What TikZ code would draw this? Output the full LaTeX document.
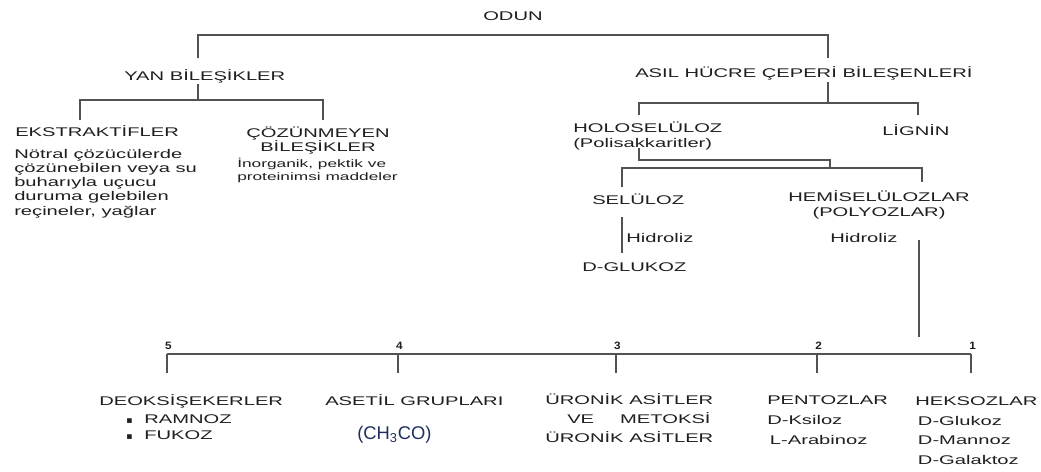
\documentclass[tikz,border=0pt]{standalone}
\usepackage{fontspec}
\setmainfont{Liberation Sans}[FakeStretch=1.6]
\newfontfamily\numfont{Liberation Sans}[FakeStretch=1.1]
\newfontfamily\chemfont{Liberation Sans}
\newfontfamily\symfont{DejaVu Sans}
\definecolor{chemblue}{RGB}{31,47,95}
\newcommand{\rows}[2][l]{\begin{tabular}[t]{@{}#1@{}}#2\end{tabular}}
\tikzset{
  tree/.style={line width=1.4pt, draw=black!68},
  lbl/.style={inner sep=0pt, anchor=base west, text=black!88,
    font=\fontsize{9.45}{#1}\selectfont},
  lbl/.default=11pt,
  clbl/.style={lbl=#1, anchor=base},
  clbl/.default=11pt,
  num/.style={inner sep=0pt, anchor=base, text=black!88,
    font=\numfont\bfseries\fontsize{8}{9}\selectfont}
}
\begin{document}
\begin{tikzpicture}[x=0.75pt, y=-0.75pt]
\useasboundingbox (0,0) rectangle (1041,471);

\node[lbl] (odun) at (483,20) {ODUN};
\node[lbl] (yan) at (124,80.5) {YAN BİLEŞİKLER};
\node[lbl] (asil) at (635,77.5) {ASIL HÜCRE ÇEPERİ BİLEŞENLERİ};
\node[lbl] (eks) at (15,136) {EKSTRAKTİFLER};
\node[lbl=10.7pt] (eksnot) at (14,158) {\rows{Nötral çözücülerde\\çözünebilen veya su\\buharıyla uçucu\\duruma gelebilen\\reçineler, yağlar}};
\node[clbl=9pt] (coz) at (318,137) {\rows[c]{ÇÖZÜNMEYEN\\BİLEŞİKLER}};
\node[lbl, font=\fontsize{8.1}{9.75}\selectfont] (coznot) at (237,167) {\rows{İnorganik, pektik ve\\proteinimsi maddeler}};
\node[lbl=11.25pt] (holo) at (573,132) {\rows{HOLOSELÜLOZ\\(Polisakkaritler)}};
\node[lbl] (lignin) at (882,135) {LİGNİN};
\node[lbl] (sel) at (592,204.5) {SELÜLOZ};
\node[clbl=11.25pt] (hemi) at (879,201) {\rows[c]{HEMİSELÜLOZLAR\\(POLYOZLAR)}};
\node[lbl] (hid1) at (626,242) {Hidroliz};
\node[lbl] (hid2) at (830,242) {Hidroliz};
\node[lbl] (glu) at (582,271) {D-GLUKOZ};

\node[lbl] (deoks) at (99,405.5) {DEOKSİŞEKERLER};
\node[lbl=12.4pt] (deokslist) at (126,423) {\rows{\makebox[13.5pt][l]{\symfont\fontsize{7}{7}\selectfont ▪}RAMNOZ\\\makebox[13.5pt][l]{\symfont\fontsize{7}{7}\selectfont ▪}FUKOZ}};
\node[lbl] (aset) at (325,405.5) {ASETİL GRUPLARI};
\node[lbl, font=\chemfont\fontsize{13.8}{16}\selectfont, text=chemblue] (ch3co) at (357,439.5) {(CH\textsubscript{3}CO)};
\node[lbl=14.25pt] (uron) at (545,404.5) {\rows{ÜRONİK ASİTLER\\\hspace*{16.5pt}VE\hspace{19.5pt}METOKSİ\\ÜRONİK ASİTLER}};
\node[lbl=15pt] (pent) at (767,404.5) {\rows{PENTOZLAR\\D-Ksiloz\\\hspace*{2pt}L-Arabinoz}};
\node[lbl=14.75pt] (heks) at (915,405.5) {\rows{HEKSOZLAR\\\hspace*{2pt}D-Glukoz\\\hspace*{2pt}D-Mannoz\\\hspace*{2pt}D-Galaktoz}};

\coordinate (yanT) at (198,58);
\coordinate (asilT) at (828,58);
\draw[tree] (yanT) -- ++(0,-23) -| (asilT);

\coordinate (yanB) at (198,84);
\coordinate (eksT) at (80,120);
\coordinate (cozT) at (323,120);
\draw[tree] (yanB) -- ++(0,16) coordinate (yanJ);
\draw[tree] (eksT) |- (yanJ) -| (cozT);

\coordinate (asilB) at (828,82);
\coordinate (holoT) at (639,115);
\coordinate (ligT) at (918,115);
\draw[tree] (asilB) -- ++(0,21) coordinate (asilJ);
\draw[tree] (holoT) |- (asilJ) -| (ligT);

\coordinate (holoB) at (639,148);
\coordinate (selT) at (622,187);
\coordinate (hemiT) at (922,182);
\draw[tree] (holoB) -- ++(0,12) -| ++(191,8) coordinate (holoJ);
\draw[tree] (selT) |- (holoJ) -| (hemiT);

\coordinate (selB) at (622,217);
\draw[tree] (selB) -- ++(0,36);
\coordinate (hemiB) at (919,240);
\draw[tree] (hemiB) -- ++(0,97);

\coordinate (barL) at (167,354);
\coordinate (barR) at (971,354);
\draw[tree] (barL) -- (barR);
\foreach \x/\n in {167/5,398/4,616/3,817/2,971/1} {
  \node[num] (n\n) at (\x+1.5,349) {\n};
  \draw[tree] (\x,354) -- (\x,373);
}
\end{tikzpicture}
\end{document}
